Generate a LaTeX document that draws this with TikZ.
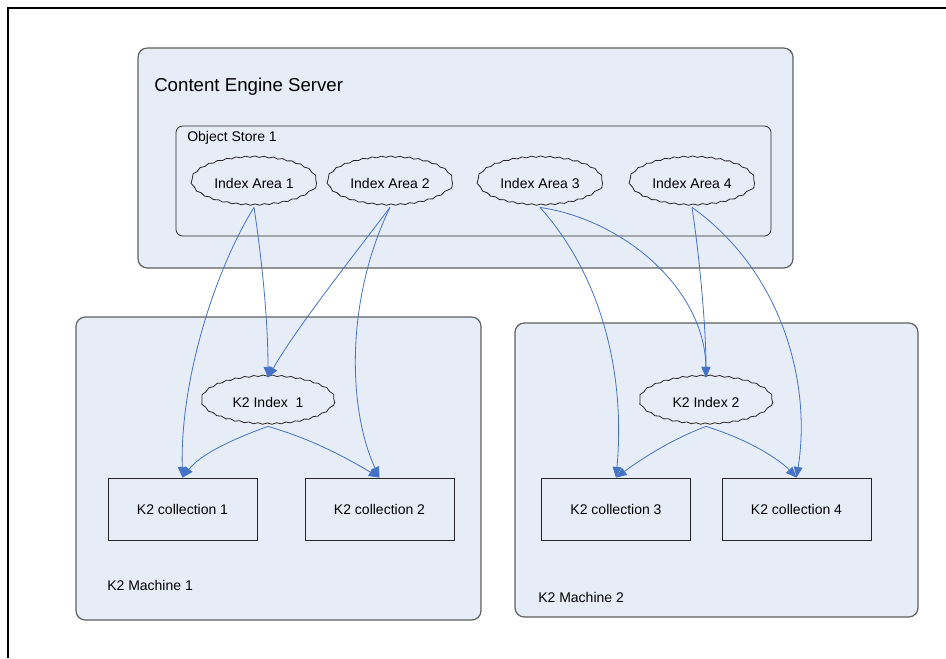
\documentclass[tikz,border=0pt]{standalone}
\usepackage{fontspec}
\setmainfont{Liberation Sans}
\usetikzlibrary{arrows.meta,shapes.geometric,decorations.pathmorphing}
\definecolor{panel}{HTML}{E6EDF7}
\definecolor{edgegray}{HTML}{606060}
\definecolor{arrowblue}{HTML}{4472C4}
\tikzset{
  bigbox/.style={draw=edgegray, line width=0.9pt, fill=panel, rounded corners=7pt, inner sep=0pt},
  innerbox/.style={draw=black!85, line width=0.6pt, fill=panel, rounded corners=5pt, inner sep=0pt},
  wavy/.style={decorate, decoration={snake, segment length=7pt, amplitude=0.5pt}},
  areaell/.style={ellipse, draw=black!85, line width=0.6pt, fill=panel, inner sep=0pt, minimum width=93.75pt, minimum height=36pt, font=\fontsize{10.5}{12}\selectfont, wavy},
  k2ell/.style={ellipse, draw=black!85, line width=0.6pt, fill=panel, inner sep=0pt, minimum width=99.75pt, minimum height=36pt, font=\fontsize{10.5}{12}\selectfont, wavy},
  collbox/.style={rectangle, draw=black!85, line width=0.6pt, fill=panel, inner sep=0pt, minimum width=111.75pt, minimum height=46.5pt, font=\fontsize{10.5}{12}\selectfont},
  lbl/.style={anchor=west, inner sep=0pt, font=\fontsize{10.5}{12}\selectfont},
  flow/.style={draw=arrowblue, line width=0.6pt, -{Triangle[length=8pt,width=6.5pt]}},
}
\begin{document}
\begin{tikzpicture}[x=0.75pt,y=-0.75pt]
\useasboundingbox (0,0) rectangle (946,658);
\fill[white] (0,0) rectangle (946,658);
\draw[black, line width=1pt] (8,658) -- (8,8) -- (946,8);

% big containers
\node[bigbox, minimum width=491.25pt, minimum height=165pt] (ces) at (465.5,158) {};
\node[innerbox, minimum width=446.25pt, minimum height=82.5pt] (os) at (473.5,181) {};
\node[bigbox, minimum width=303.75pt, minimum height=227.25pt] (m1) at (278.5,468.5) {};
\node[bigbox, minimum width=302.25pt, minimum height=220.5pt] (m2) at (716.5,470) {};

\node[anchor=west, inner sep=0pt, font=\fontsize{14}{16}\selectfont] (cest) at (154,87) {Content Engine Server};
\node[lbl] (ost) at (187,138) {Object Store 1};
\node[lbl] (m1t) at (107,585) {K2 Machine 1};
\node[lbl] (m2t) at (538,597) {K2 Machine 2};

% index areas
\node[areaell] (ia1) at (254,183) {Index Area 1};
\node[areaell] (ia2) at (390,183) {Index Area 2};
\node[areaell] (ia3) at (540,183) {Index Area 3};
\node[areaell] (ia4) at (692,183) {Index Area 4};

% K2 indexes
\node[k2ell] (k1) at (268,402) {K2 Index\ \ 1};
\node[k2ell] (k2) at (706,402) {K2 Index 2};

% collections
\node[collbox] (c1) at (182.5,509) {K2 collection 1};
\node[collbox] (c2) at (379.5,509) {K2 collection 2};
\node[collbox] (c3) at (616,509) {K2 collection 3};
\node[collbox] (c4) at (796.5,509) {K2 collection 4};

% connectors
\draw[flow] (ia1.south) .. controls (262,260) and (268,320) .. (k1.north);
\draw[flow] (ia1.south) .. controls (215,270) and (180,380) .. (c1.north);
\draw[flow] (ia2.south) .. controls (350,260) and (295,330) .. (k1.north);
\draw[flow] (ia2.south) .. controls (345,300) and (348,410) .. (c2.north);
\draw[flow] (ia3.south) .. controls (605,280) and (625,380) .. (c3.north);
\draw[flow] (ia3.south) .. controls (625,220) and (705,290) .. (k2.north);
\draw[flow] (ia4.south) .. controls (700,260) and (706,330) .. (k2.north);
\draw[flow] (ia4.south) .. controls (780,270) and (812,380) .. (c4.north);
\draw[flow] (k1.south) .. controls (230,440) and (200,455) .. (c1.north);
\draw[flow] (k1.south) .. controls (315,440) and (350,460) .. (c2.north);
\draw[flow] (k2.south) .. controls (670,440) and (640,460) .. (c3.north);
\draw[flow] (k2.south) .. controls (750,440) and (780,460) .. (c4.north);
\end{tikzpicture}
\end{document}
